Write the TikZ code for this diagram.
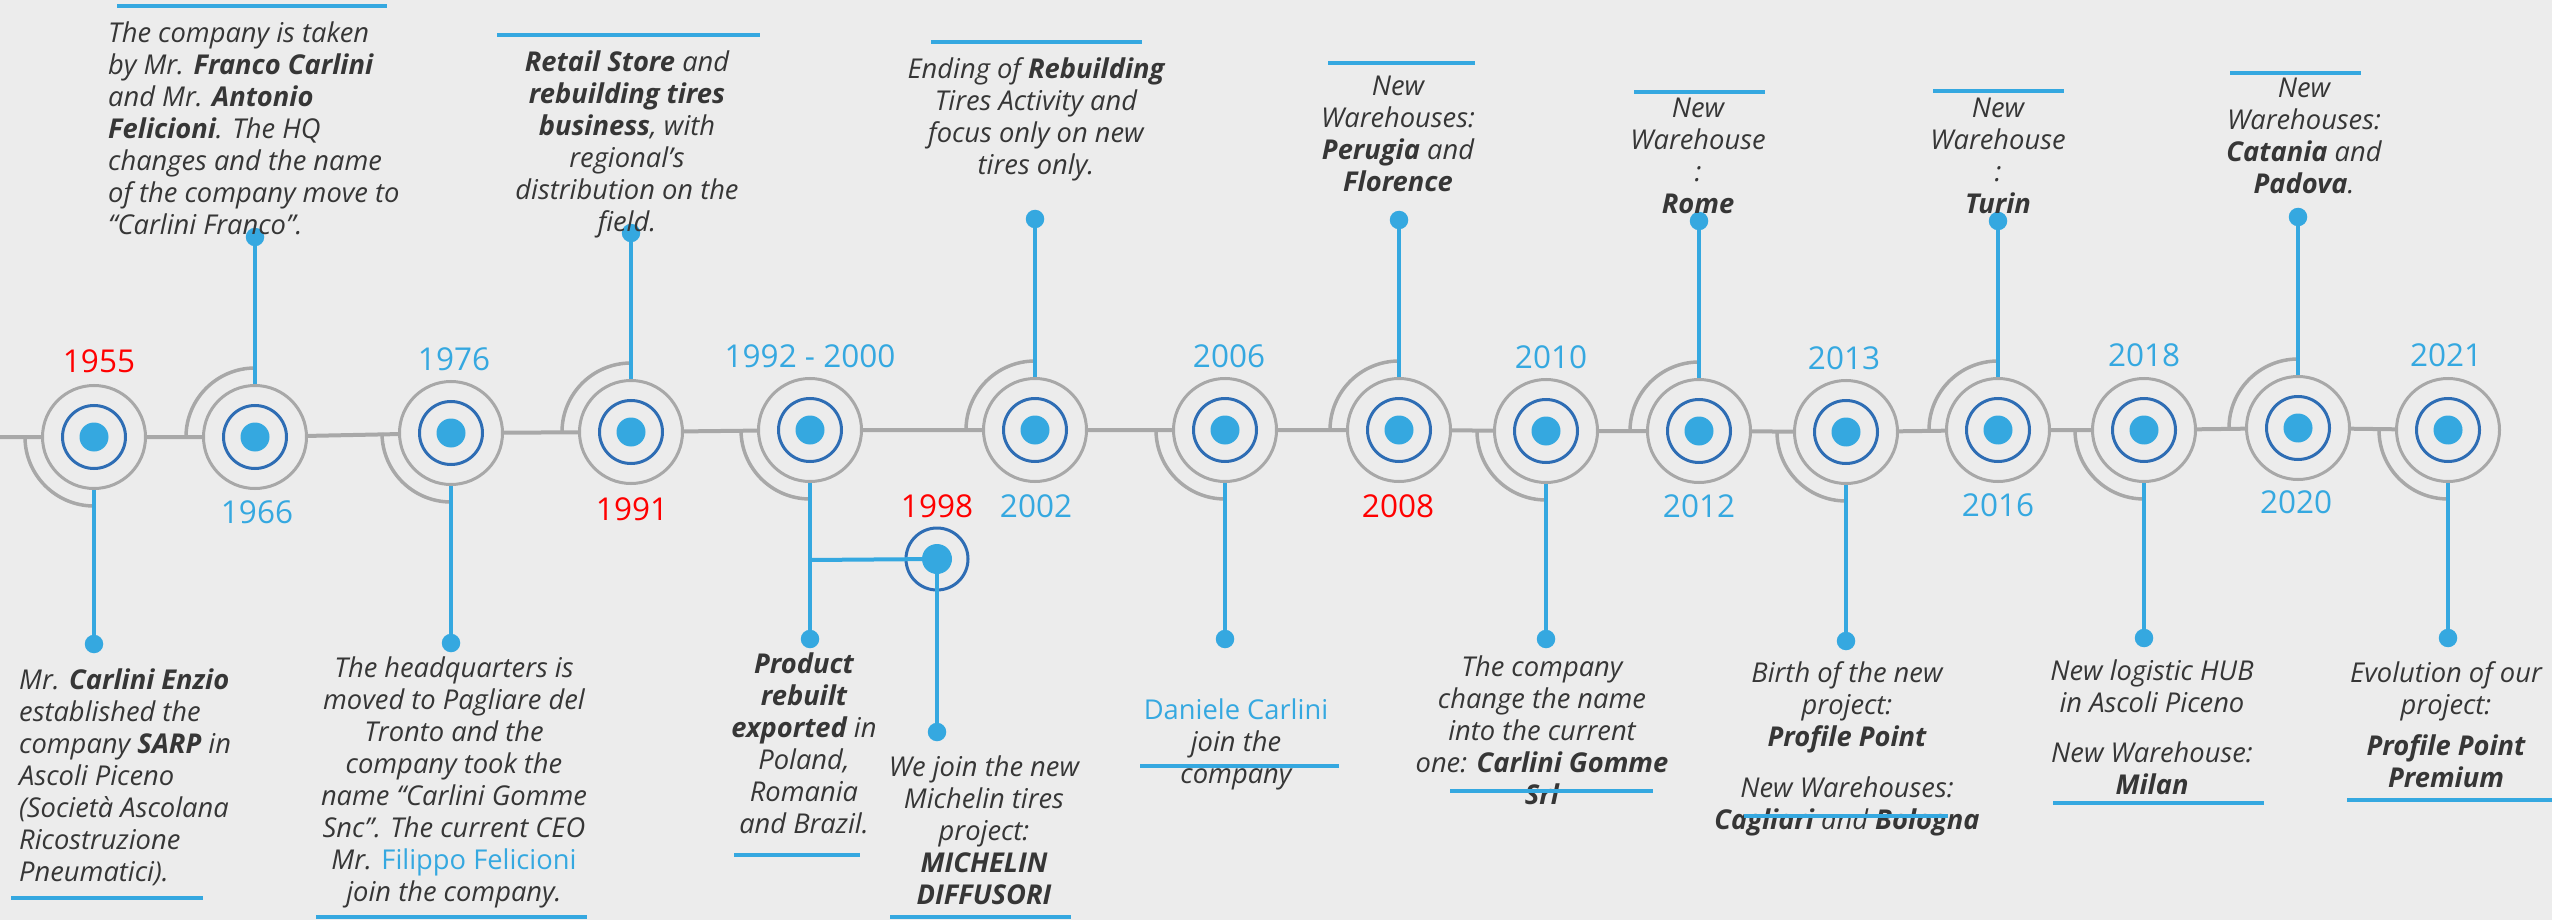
\documentclass[tikz,border=0pt]{standalone}
\usepackage{fontspec}
\setmainfont{Open Sans}
\definecolor{bg}{HTML}{ECECEC}
\definecolor{tlgray}{HTML}{A8A8A8}
\definecolor{tlblue}{HTML}{35A8E0}
\definecolor{ringblue}{HTML}{2E6DB4}
\definecolor{txt}{HTML}{363636}
\definecolor{yred}{HTML}{FF0000}
\newcommand\myDescFont{\itshape\fontsize{27.3}{32}\selectfont}
\newcommand\myYearFont{\fontsize{31.5}{31.5}\selectfont}
\tikzset{
  tl/.style={draw=tlgray, line width=4pt},
  outer/.style={circle, draw=tlgray, line width=3pt, fill=bg, minimum size=103pt, inner sep=0pt},
  ringst/.style={circle, draw=ringblue, line width=3pt, minimum size=63pt, inner sep=0pt},
  core/.style={circle, fill=tlblue, minimum size=29pt, inner sep=0pt},
  enddot/.style={circle, fill=tlblue, minimum size=18.5pt, inner sep=0pt},
  conn/.style={draw=tlblue, line width=4pt},
  bar/.style={draw=tlblue, line width=4.5pt},
  quarter/.style={draw=tlgray, line width=3.5pt},
  yearb/.style={text=tlblue, font=\myYearFont, inner sep=0pt},
  yearr/.style={text=yred, font=\myYearFont, inner sep=0pt},
  desc/.style={text=txt, font=\myDescFont, align=center, inner sep=0pt, anchor=north},
  descl/.style={text=txt, font=\myDescFont, align=left, inner sep=0pt, anchor=north west},
}
\newcommand\tlEvent[3]{%
  \node[outer] (n#1) at (#2,#3) {};
  \node[ringst] (r#1) at (n#1) {};
  \node[core] (c#1) at (n#1) {};}
\newcommand\arcBL[1]{\draw[quarter] ([shift={(180:69)}]n#1.center) arc[start angle=180,end angle=270,radius=69];}
\newcommand\arcTL[1]{\draw[quarter] ([shift={(180:69)}]n#1.center) arc[start angle=180,end angle=90,radius=69];}
\begin{document}
\begin{tikzpicture}[x=1pt,y=1pt]
\fill[bg] (0,0) rectangle (2552,-920);
\useasboundingbox (0,0) rectangle (2552,-920);

% ---- main nodes
\tlEvent{1955}{94}{-437}
\tlEvent{1966}{255}{-437}
\tlEvent{1976}{451}{-433}
\tlEvent{1991}{631}{-432}
\tlEvent{1992}{810}{-430}
\tlEvent{2002}{1035}{-430}
\tlEvent{2006}{1225}{-430}
\tlEvent{2008}{1399}{-430}
\tlEvent{2010}{1546}{-431}
\tlEvent{2012}{1699}{-431}
\tlEvent{2013}{1846}{-432}
\tlEvent{2016}{1998}{-430}
\tlEvent{2018}{2144}{-430}
\tlEvent{2020}{2298}{-428}
\tlEvent{2021}{2448}{-430}

% 1998 secondary marker
\node[ringst, minimum size=62pt] (r1998) at (937,-559) {};
\node[core, minimum size=30pt] (c1998) at (r1998) {};

% ---- timeline
\coordinate (tlstart) at (0,-437);
\draw[tl] (tlstart) -- (n1955) -- (n1966) -- (n1976) -- (n1991) -- (n1992) -- (n2002) -- (n2006) -- (n2008) -- (n2010) -- (n2012) -- (n2013) -- (n2016) -- (n2018) -- (n2020) -- (n2021);

% ---- quarter arcs
\arcBL{1955} \arcTL{1966} \arcBL{1976} \arcTL{1991} \arcBL{1992}
\arcTL{2002} \arcBL{2006} \arcTL{2008} \arcBL{2010} \arcTL{2012}
\arcBL{2013} \arcTL{2016} \arcBL{2018} \arcTL{2020} \arcBL{2021}

% ---- end dots
\node[enddot] (e1955) at (94,-644) {};
\node[enddot] (e1966) at (255,-237) {};
\node[enddot] (e1976) at (451,-643) {};
\node[enddot] (e1991) at (631,-233) {};
\node[enddot] (e1992) at (810,-639) {};
\node[enddot] (e1998) at (937,-732) {};
\node[enddot] (e2002) at (1035,-219) {};
\node[enddot] (e2006) at (1225,-639) {};
\node[enddot] (e2008) at (1399,-220) {};
\node[enddot] (e2010) at (1546,-639) {};
\node[enddot] (e2012) at (1699,-221) {};
\node[enddot] (e2013) at (1846,-641) {};
\node[enddot] (e2016) at (1998,-221) {};
\node[enddot] (e2018) at (2144,-638) {};
\node[enddot] (e2020) at (2298,-217) {};
\node[enddot] (e2021) at (2448,-638) {};

% ---- connectors
\foreach \y in {1955,1966,1976,1991,1992,2002,2006,2008,2010,2012,2013,2016,2018,2020,2021}{
  \draw[conn] (n\y) -- (e\y);
}
\coordinate (j1992) at (810,-560);
\draw[conn] (j1992) -- (c1998);
\draw[conn] (c1998) -- (e1998);

% ---- years
\node[yearr] (y1955) at (99,-361) {1955};
\node[yearb] (y1966) at (257,-512) {1966};
\node[yearb] (y1976) at (454,-359) {1976};
\node[yearr] (y1991) at (632,-509) {1991};
\node[yearb] (y1992) at (810,-356) {1992 - 2000};
\node[yearr] (y1998) at (937,-506) {1998};
\node[yearb] (y2002) at (1036,-506) {2002};
\node[yearb] (y2006) at (1229,-356) {2006};
\node[yearr] (y2008) at (1398,-506) {2008};
\node[yearb] (y2010) at (1551,-357) {2010};
\node[yearb] (y2012) at (1699,-506) {2012};
\node[yearb] (y2013) at (1844,-358) {2013};
\node[yearb] (y2016) at (1998,-505) {2016};
\node[yearb] (y2018) at (2144,-355) {2018};
\node[yearb] (y2020) at (2296,-502) {2020};
\node[yearb] (y2021) at (2446,-355) {2021};

% ---- descriptions
\node[descl] (t1955) at (19,-669) {Mr. \textbf{Carlini Enzio}\\ established the\\ company \textbf{SARP} in\\ Ascoli Piceno\\ (Società Ascolana\\ Ricostruzione\\ Pneumatici).};
\node[descl] (t1966) at (108,-22) {The company is taken\\ by Mr. \textbf{Franco Carlini}\\ and Mr. \textbf{Antonio}\\ \textbf{Felicioni}. The HQ\\ changes and the name\\ of the company move to\\ “Carlini Franco”.};
\node[desc] (t1976) at (454,-657) {The headquarters is\\ moved to Pagliare del\\ Tronto and the\\ company took the\\ name “Carlini Gomme\\ Snc”. The current CEO\\ Mr. {\upshape\color{tlblue}Filippo Felicioni}\\ join the company.};
\node[desc] (t1991) at (627,-51) {\textbf{Retail Store} and\\ \textbf{rebuilding tires}\\ \textbf{business}, with\\ regional’s\\ distribution on the\\ field.};
\node[desc] (t1992) at (804,-653) {\textbf{Product}\\ \textbf{rebuilt}\\ \textbf{exported} in\\ Poland,\\ Romania\\ and Brazil.};
\node[desc] (t1998) at (984,-756) {We join the new\\ Michelin tires\\ project:\\ \textbf{MICHELIN}\\ \textbf{DIFFUSORI}};
\node[desc] (t2002) at (1036,-57) {Ending of \textbf{Rebuilding}\\ Tires Activity and\\ focus only on new\\ tires only.};
\node[desc] (t2006) at (1236,-699) {{\upshape\color{tlblue}Daniele Carlini}\\ join the\\ company};
\node[desc] (t2008) at (1398,-76) {New\\ Warehouses:\\ \textbf{Perugia} and\\ \textbf{Florence}};
\node[desc] (t2010) at (1542,-656) {The company\\ change the name\\ into the current\\ one: \textbf{Carlini Gomme}\\ \textbf{Srl}};
\node[desc] (t2012) at (1698,-98) {New\\ Warehouse\\ :\\ \textbf{Rome}};
\node[desc] (t2013) at (1847,-661) {Birth of the new\\ project:\\ \textbf{Profile Point}\\[19pt] New Warehouses:\\ \textbf{Cagliari} and \textbf{Bologna}};
\node[desc] (t2016) at (1998,-98) {New\\ Warehouse\\ :\\ \textbf{Turin}};
\node[desc] (t2018) at (2152,-660) {New logistic HUB\\ in Ascoli Piceno\\[18pt] New Warehouse:\\ \textbf{Milan}};
\node[desc] (t2020) at (2304,-78) {New\\ Warehouses:\\ \textbf{Catania} and\\ \textbf{Padova}.};
\node[desc] (t2021) at (2446,-661) {Evolution of our\\ project:\\[9pt] \textbf{Profile Point}\\ \textbf{Premium}};

% ---- bars
\draw[bar] (11,-898) -- (203,-898);
\draw[bar] (117,-6) -- (387,-6);
\draw[bar] (316,-917) -- (587,-917);
\draw[bar] (497,-35) -- (760,-35);
\draw[bar] (734,-855) -- (860,-855);
\draw[bar] (890,-917) -- (1071,-917);
\draw[bar] (931,-42) -- (1142,-42);
\draw[bar] (1140,-766) -- (1339,-766);
\draw[bar] (1328,-63) -- (1475,-63);
\draw[bar] (1450,-791) -- (1653,-791);
\draw[bar] (1634,-92) -- (1765,-92);
\draw[bar] (1744,-816) -- (1948,-816);
\draw[bar] (1933,-91) -- (2064,-91);
\draw[bar] (2053,-803) -- (2264,-803);
\draw[bar] (2230,-73) -- (2361,-73);
\draw[bar] (2347,-800) -- (2552,-800);
\end{tikzpicture}
\end{document}
